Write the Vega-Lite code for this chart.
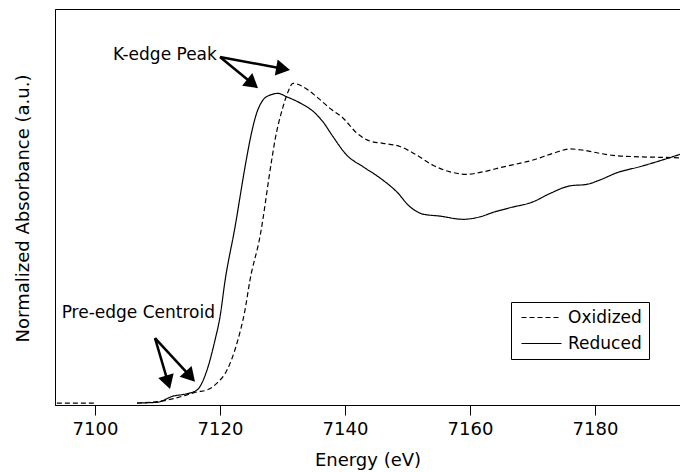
{
  "$schema": "https://vega.github.io/schema/vega-lite/v6.json",
  "width": 625,
  "height": 396,
  "autosize": {"type": "none"},
  "padding": {"left": 55, "top": 9, "right": 0, "bottom": 67},
  "config": {
    "font": "DejaVu Sans",
    "view": {"stroke": "black", "strokeWidth": 1},
    "axis": {"grid": false, "domainColor": "black", "tickColor": "black", "labelColor": "black", "titleColor": "black", "titleFontWeight": "normal"}
  },
  "datasets": {
    "spectra": [
      {"energy": 7093.9, "absorbance": 0.0, "sample": "Oxidized"},
      {"energy": 7097.0, "absorbance": 0.0, "sample": "Oxidized"},
      {"energy": 7100.0, "absorbance": 0.0, "sample": "Oxidized"},
      {"energy": 7103.0, "absorbance": null, "sample": "Oxidized"},
      {"energy": 7106.72, "absorbance": 0.0, "sample": "Oxidized"},
      {"energy": 7111.52, "absorbance": 0.012, "sample": "Oxidized"},
      {"energy": 7114.72, "absorbance": 0.033, "sample": "Oxidized"},
      {"energy": 7116.32, "absorbance": 0.045, "sample": "Oxidized"},
      {"energy": 7117.92, "absorbance": 0.053, "sample": "Oxidized"},
      {"energy": 7119.52, "absorbance": 0.081, "sample": "Oxidized"},
      {"energy": 7121.12, "absorbance": 0.134, "sample": "Oxidized"},
      {"energy": 7122.72, "absorbance": 0.244, "sample": "Oxidized"},
      {"energy": 7124.0, "absorbance": 0.378, "sample": "Oxidized"},
      {"energy": 7124.8, "absorbance": 0.5, "sample": "Oxidized"},
      {"energy": 7126.4, "absorbance": 0.677, "sample": "Oxidized"},
      {"energy": 7128.27, "absorbance": 0.988, "sample": "Oxidized"},
      {"energy": 7128.8, "absorbance": 1.069, "sample": "Oxidized"},
      {"energy": 7130.08, "absorbance": 1.204, "sample": "Oxidized"},
      {"energy": 7130.88, "absorbance": 1.265, "sample": "Oxidized"},
      {"energy": 7131.68, "absorbance": 1.3, "sample": "Oxidized"},
      {"energy": 7133.28, "absorbance": 1.286, "sample": "Oxidized"},
      {"energy": 7135.47, "absorbance": 1.245, "sample": "Oxidized"},
      {"energy": 7137.6, "absorbance": 1.198, "sample": "Oxidized"},
      {"energy": 7139.68, "absorbance": 1.159, "sample": "Oxidized"},
      {"energy": 7141.87, "absorbance": 1.098, "sample": "Oxidized"},
      {"energy": 7144.0, "absorbance": 1.065, "sample": "Oxidized"},
      {"energy": 7146.08, "absorbance": 1.056, "sample": "Oxidized"},
      {"energy": 7148.8, "absorbance": 1.043, "sample": "Oxidized"},
      {"energy": 7151.47, "absorbance": 1.008, "sample": "Oxidized"},
      {"energy": 7154.08, "absorbance": 0.967, "sample": "Oxidized"},
      {"energy": 7156.8, "absorbance": 0.94, "sample": "Oxidized"},
      {"energy": 7159.47, "absorbance": 0.93, "sample": "Oxidized"},
      {"energy": 7162.08, "absorbance": 0.94, "sample": "Oxidized"},
      {"energy": 7164.8, "absorbance": 0.957, "sample": "Oxidized"},
      {"energy": 7170.08, "absorbance": 0.988, "sample": "Oxidized"},
      {"energy": 7173.28, "absorbance": 1.015, "sample": "Oxidized"},
      {"energy": 7176.0, "absorbance": 1.033, "sample": "Oxidized"},
      {"energy": 7178.08, "absorbance": 1.028, "sample": "Oxidized"},
      {"energy": 7180.8, "absorbance": 1.015, "sample": "Oxidized"},
      {"energy": 7182.88, "absorbance": 1.007, "sample": "Oxidized"},
      {"energy": 7187.2, "absorbance": 1.001, "sample": "Oxidized"},
      {"energy": 7190.4, "absorbance": 0.999, "sample": "Oxidized"},
      {"energy": 7193.6, "absorbance": 0.997, "sample": "Oxidized"},
      {"energy": 7106.72, "absorbance": 0.0, "sample": "Reduced"},
      {"energy": 7109.92, "absorbance": 0.003, "sample": "Reduced"},
      {"energy": 7112.48, "absorbance": 0.028, "sample": "Reduced"},
      {"energy": 7114.56, "absorbance": 0.037, "sample": "Reduced"},
      {"energy": 7116.32, "absorbance": 0.053, "sample": "Reduced"},
      {"energy": 7117.92, "absorbance": 0.134, "sample": "Reduced"},
      {"energy": 7119.2, "absorbance": 0.256, "sample": "Reduced"},
      {"energy": 7120.0, "absorbance": 0.35, "sample": "Reduced"},
      {"energy": 7120.8, "absorbance": 0.496, "sample": "Reduced"},
      {"energy": 7122.4, "absorbance": 0.715, "sample": "Reduced"},
      {"energy": 7124.0, "absorbance": 0.959, "sample": "Reduced"},
      {"energy": 7124.8, "absorbance": 1.069, "sample": "Reduced"},
      {"energy": 7125.87, "absorbance": 1.179, "sample": "Reduced"},
      {"energy": 7126.88, "absorbance": 1.232, "sample": "Reduced"},
      {"energy": 7128.0, "absorbance": 1.252, "sample": "Reduced"},
      {"energy": 7129.28, "absorbance": 1.259, "sample": "Reduced"},
      {"energy": 7130.67, "absorbance": 1.245, "sample": "Reduced"},
      {"energy": 7132.8, "absorbance": 1.22, "sample": "Reduced"},
      {"energy": 7135.2, "absorbance": 1.179, "sample": "Reduced"},
      {"energy": 7136.48, "absorbance": 1.143, "sample": "Reduced"},
      {"energy": 7138.08, "absorbance": 1.083, "sample": "Reduced"},
      {"energy": 7140.27, "absorbance": 1.008, "sample": "Reduced"},
      {"energy": 7142.88, "absorbance": 0.961, "sample": "Reduced"},
      {"energy": 7145.6, "absorbance": 0.915, "sample": "Reduced"},
      {"energy": 7148.27, "absorbance": 0.859, "sample": "Reduced"},
      {"energy": 7150.4, "absorbance": 0.798, "sample": "Reduced"},
      {"energy": 7152.48, "absorbance": 0.768, "sample": "Reduced"},
      {"energy": 7155.2, "absorbance": 0.76, "sample": "Reduced"},
      {"energy": 7158.88, "absorbance": 0.747, "sample": "Reduced"},
      {"energy": 7161.6, "absorbance": 0.757, "sample": "Reduced"},
      {"energy": 7163.68, "absorbance": 0.775, "sample": "Reduced"},
      {"energy": 7166.4, "absorbance": 0.794, "sample": "Reduced"},
      {"energy": 7170.08, "absorbance": 0.818, "sample": "Reduced"},
      {"energy": 7172.8, "absorbance": 0.852, "sample": "Reduced"},
      {"energy": 7176.0, "absorbance": 0.883, "sample": "Reduced"},
      {"energy": 7178.67, "absorbance": 0.889, "sample": "Reduced"},
      {"energy": 7180.8, "absorbance": 0.907, "sample": "Reduced"},
      {"energy": 7183.47, "absorbance": 0.936, "sample": "Reduced"},
      {"energy": 7187.2, "absorbance": 0.961, "sample": "Reduced"},
      {"energy": 7190.4, "absorbance": 0.985, "sample": "Reduced"},
      {"energy": 7193.6, "absorbance": 1.011, "sample": "Reduced"}
    ],
    "arrows": [
      {"arrow": "peak1", "x1": 7120.0, "y1": 1.407, "x2": 7125.22, "y2": 1.298},
      {"arrow": "peak2", "x1": 7120.0, "y1": 1.407, "x2": 7130.1, "y2": 1.359},
      {"arrow": "pre1", "x1": 7109.6, "y1": 0.264, "x2": 7111.68, "y2": 0.084},
      {"arrow": "pre2", "x1": 7109.6, "y1": 0.264, "x2": 7115.25, "y2": 0.108}
    ],
    "labels": [
      {"text": "K-edge Peak", "energy": 7119.5, "absorbance": 1.415},
      {"text": "Pre-edge Centroid", "energy": 7119.2, "absorbance": 0.366}
    ]
  },
  "layer": [
    {
      "data": {"name": "spectra"},
      "mark": {"type": "line", "color": "black", "strokeWidth": 1.2, "interpolate": "monotone", "invalid": "break-paths-filter-domains", "clip": true},
      "encoding": {
        "x": {"field": "energy", "type": "quantitative", "title": "Energy (eV)",
              "scale": {"domain": [7093.6, 7193.6], "nice": false, "zero": false},
              "axis": {"values": [7100, 7120, 7140, 7160, 7180], "format": "d", "tickSize": 10, "labelFontSize": 18, "labelPadding": 5, "titleFontSize": 18, "titlePadding": 13, "labelFlush": false}},
        "y": {"field": "absorbance", "type": "quantitative", "title": "Normalized Absorbance (a.u.)",
              "scale": {"domain": [-0.008, 1.602], "nice": false, "zero": false},
              "axis": {"ticks": false, "labels": false, "titleFontSize": 18, "titleX": -32, "titleY": 199, "titleAlign": "center", "titleBaseline": "middle", "titleAngle": -90}},
        "strokeDash": {"field": "sample", "type": "nominal",
              "scale": {"domain": ["Oxidized", "Reduced"], "range": [[5, 3], [1, 0]]},
              "legend": {"title": null, "orient": "none", "legendX": 456, "legendY": 293, "strokeColor": "black", "padding": 7, "symbolType": "M-1,0H7", "symbolSize": 100, "symbolStrokeColor": "black", "symbolStrokeWidth": 1.2, "labelFontSize": 17, "labelOffset": 33, "rowPadding": 8, "labelColor": "black"}}
      }
    },
    {
      "data": {"name": "arrows"},
      "mark": {"type": "rule", "color": "black", "strokeWidth": 2.5},
      "encoding": {
        "x": {"field": "x1", "type": "quantitative"},
        "y": {"field": "y1", "type": "quantitative"},
        "x2": {"field": "x2"},
        "y2": {"field": "y2"}
      }
    },
    {
      "data": {"name": "arrows"},
      "transform": [{"filter": "datum.arrow == 'peak1'"}],
      "mark": {"type": "point", "shape": "triangle-up", "filled": true, "color": "black", "opacity": 1, "size": 260, "angle": 129},
      "encoding": {"x": {"field": "x2", "type": "quantitative"}, "y": {"field": "y2", "type": "quantitative"}}
    },
    {
      "data": {"name": "arrows"},
      "transform": [{"filter": "datum.arrow == 'peak2'"}],
      "mark": {"type": "point", "shape": "triangle-up", "filled": true, "color": "black", "opacity": 1, "size": 260, "angle": 100},
      "encoding": {"x": {"field": "x2", "type": "quantitative"}, "y": {"field": "y2", "type": "quantitative"}}
    },
    {
      "data": {"name": "arrows"},
      "transform": [{"filter": "datum.arrow == 'pre1'"}],
      "mark": {"type": "point", "shape": "triangle-up", "filled": true, "color": "black", "opacity": 1, "size": 260, "angle": 163},
      "encoding": {"x": {"field": "x2", "type": "quantitative"}, "y": {"field": "y2", "type": "quantitative"}}
    },
    {
      "data": {"name": "arrows"},
      "transform": [{"filter": "datum.arrow == 'pre2'"}],
      "mark": {"type": "point", "shape": "triangle-up", "filled": true, "color": "black", "opacity": 1, "size": 260, "angle": 138},
      "encoding": {"x": {"field": "x2", "type": "quantitative"}, "y": {"field": "y2", "type": "quantitative"}}
    },
    {
      "data": {"name": "labels"},
      "mark": {"type": "text", "align": "right", "baseline": "middle", "fontSize": 17, "color": "black"},
      "encoding": {
        "x": {"field": "energy", "type": "quantitative"},
        "y": {"field": "absorbance", "type": "quantitative"},
        "text": {"field": "text"}
      }
    }
  ]
}
